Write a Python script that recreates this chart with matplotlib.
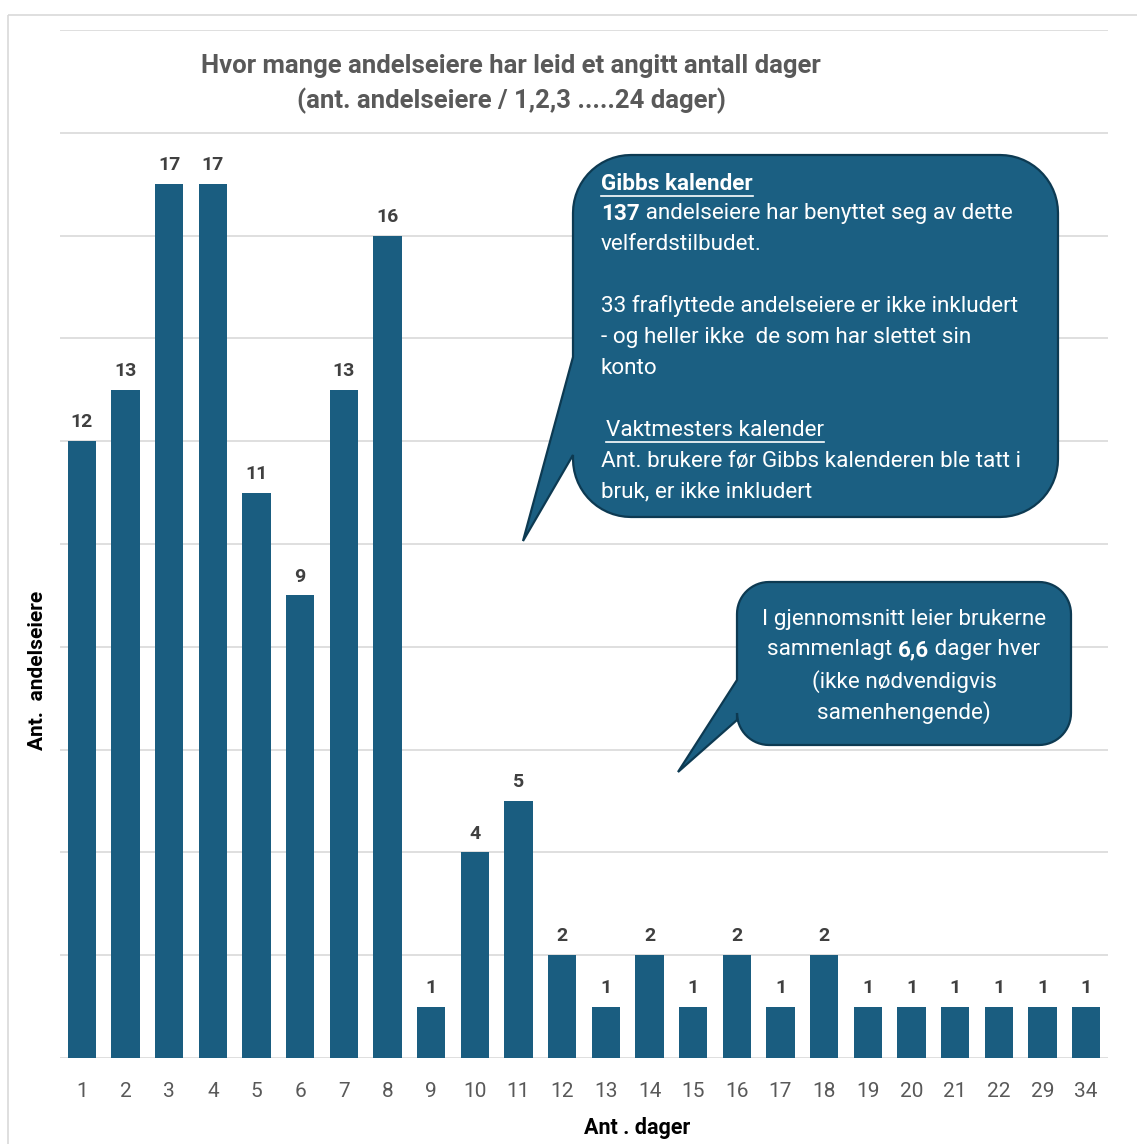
import numpy as np
import matplotlib
matplotlib.use("Agg")
import matplotlib.pyplot as plt
from matplotlib.path import Path
from matplotlib.patches import PathPatch, Rectangle
from matplotlib.lines import Line2D
from matplotlib.transforms import Affine2D

W, H = 1137, 1144

days = ["1", "2", "3", "4", "5", "6", "7", "8", "9", "10", "11", "12",
        "13", "14", "15", "16", "17", "18", "19", "20", "21", "22", "29", "34"]
owners = [12, 13, 17, 17, 11, 9, 13, 16, 1, 4, 5, 2,
          1, 2, 1, 2, 1, 2, 1, 1, 1, 1, 1, 1]

title_lines = ["Hvor mange andelseiere har leid et angitt antall dager",
               "(ant. andelseiere / 1,2,3 .....24 dager)"]

BAR = "#1a5d80"
BOX = "#1b5f82"
EDGE = "#0d3a52"
GRID = "#d9d9d9"
FONT = ["Roboto", "DejaVu Sans"]

plt.rcParams["font.family"] = FONT

fig = plt.figure(figsize=(W / 100, H / 100), dpi=100)
# pixel coords, origin top-left
pix = Affine2D().scale(1 / 100, -1 / 100).translate(0, H / 100) + fig.dpi_scale_trans

fig.patches.append(Rectangle((8, 15), W, H, transform=pix, fill=False,
                             edgecolor=GRID, linewidth=1.2))

ax = fig.add_axes([60 / W, 1 - 1058 / H, (1108 - 60) / W, (1058 - 30) / H])
x = np.arange(len(days))
bars = ax.bar(x, owners, width=0.65, color=BAR, zorder=3)
ax.set_xlim(-0.5, len(days) - 0.5)
ax.set_ylim(0, 20)
ax.set_yticks(np.arange(0, 21, 2))
ax.yaxis.grid(True, color=GRID, linewidth=1.2, zorder=0)
ax.set_yticklabels([])
ax.tick_params(axis="y", length=0)
ax.set_xticks(x)
ax.set_xticklabels(days, fontsize=15, color="#595959")
ax.tick_params(axis="x", length=0, pad=17)
for s in ax.spines.values():
    s.set_visible(False)

for b, v in zip(bars, owners):
    ax.annotate(str(v), (b.get_x() + b.get_width() / 2, v), xytext=(0, 7),
                textcoords="offset points", ha="center", va="bottom",
                fontsize=14, fontweight="bold", color="#404040")

fig.text(511 / W, 1 - 66 / H, title_lines[0], ha="center", va="center",
         fontsize=18.5, fontweight="bold", color="#595959")
fig.text(511 / W, 1 - 101 / H, title_lines[1], ha="center", va="center",
         fontsize=18.5, fontweight="bold", color="#595959")

fig.text(38 / W, 1 - 670 / H, "Ant.  andelseiere", rotation=90, ha="center",
         va="center", fontsize=15, fontweight="bold", color="black")
fig.text(637 / W, 1 - 1128 / H, "Ant . dager", ha="center", va="center",
         fontsize=15.5, fontweight="bold", color="black")


def callout(x0, y0, x1, y1, r, ty_top, ty_bot, tip):
    def arc(cx, cy, a0, a1):
        t = np.radians(np.linspace(a0, a1, 16))
        return list(zip(cx + r * np.cos(t), cy + r * np.sin(t)))
    pts = [(x0 + r, y0), (x1 - r, y0)]
    pts += arc(x1 - r, y0 + r, -90, 0)
    pts += arc(x1 - r, y1 - r, 0, 90)
    pts += arc(x0 + r, y1 - r, 90, 180)
    pts += [(x0, ty_bot), tip, (x0, ty_top)]
    pts += arc(x0 + r, y0 + r, 180, 270)
    pts.append(pts[0])
    codes = [Path.MOVETO] + [Path.LINETO] * (len(pts) - 2) + [Path.CLOSEPOLY]
    fig.patches.append(PathPatch(Path(pts, codes), transform=pix, facecolor=BOX,
                                 edgecolor=EDGE, linewidth=1.6, zorder=5))


callout(573, 155, 1058, 517, 58, 357, 455, (523, 541))
callout(737, 582, 1071, 745, 32, 680, 720, (678, 772))

fig.canvas.draw()
renderer = fig.canvas.get_renderer()


def runs(xp, yp, parts, ha="left", size=16.2, underline=False):
    # parts: list of (text, weight); drawn side by side
    widths = []
    for txt, wt in parts:
        t = fig.text(0, 0, txt, fontsize=size, fontweight=wt)
        widths.append(t.get_window_extent(renderer).width)
        t.remove()
    total = sum(widths)
    start = xp - total / 2 if ha == "center" else xp
    cur = start
    for (txt, wt), w in zip(parts, widths):
        fig.text(cur, yp, txt, transform=pix, fontsize=size, fontweight=wt,
                 color="white", ha="left", va="center", zorder=6)
        cur += w
    if underline:
        fig.add_artist(Line2D([start, start + total], [yp + 12, yp + 12],
                              transform=pix, color="white", linewidth=1.2,
                              zorder=6))


runs(601, 184, [("Gibbs kalender", "bold")], underline=True)
runs(601, 214, [("137", "bold"), (" andelseiere har benyttet seg av dette", "normal")])
runs(601, 244, [("velferdstilbudet.", "normal")])
runs(601, 306, [("33 fraflyttede andelseiere er ikke inkludert", "normal")])
runs(601, 338, [("- og heller ikke  de som har slettet sin", "normal")])
runs(601, 368, [("konto", "normal")])
runs(606, 430, [("Vaktmesters kalender", "normal")], underline=True)
runs(601, 462, [("Ant. brukere før Gibbs kalenderen ble tatt i", "normal")])
runs(601, 492, [("bruk, er ikke inkludert", "normal")])

runs(904, 619, [("I gjennomsnitt leier brukerne", "normal")], ha="center")
runs(904, 650, [("sammenlagt ", "normal"), ("6,6", "bold"), (" dager hver", "normal")], ha="center")
runs(904, 682, [("(ikke nødvendigvis", "normal")], ha="center")
runs(904, 713, [("samenhengende)", "normal")], ha="center")

fig.savefig("out.png", dpi=100, facecolor="white")
